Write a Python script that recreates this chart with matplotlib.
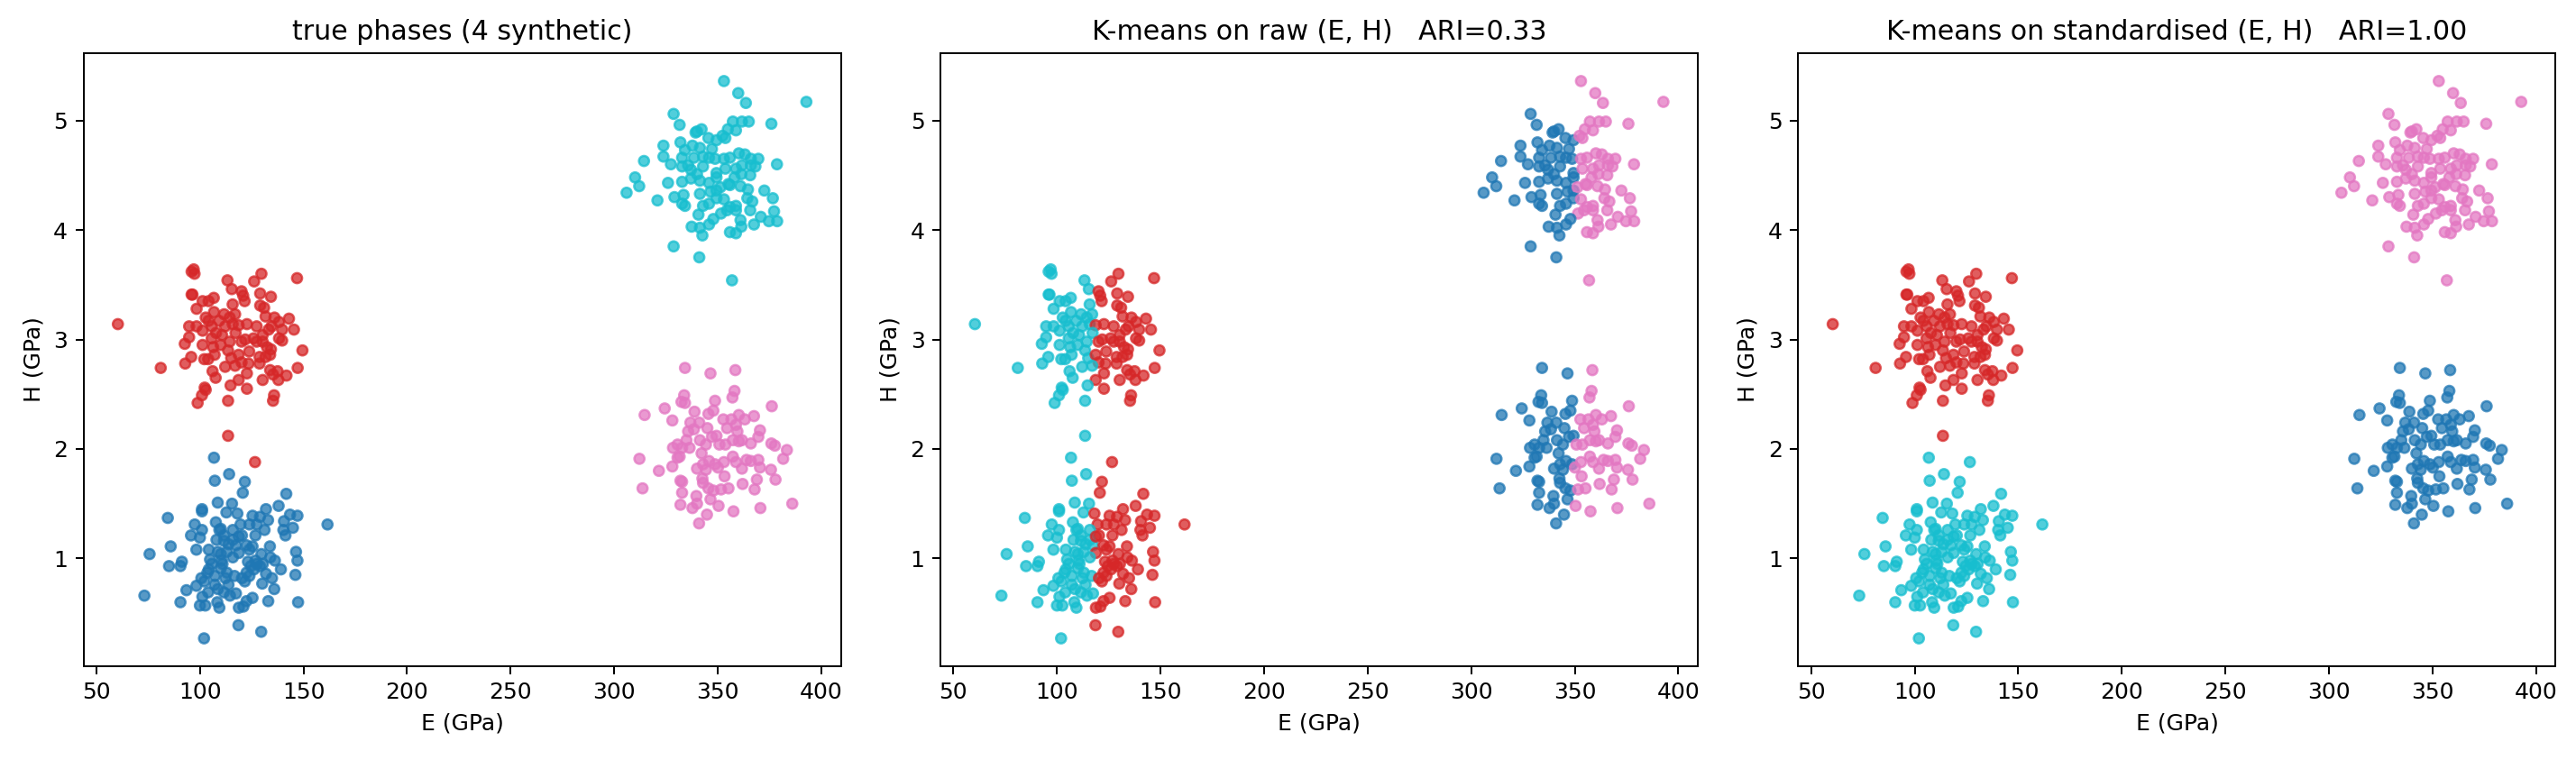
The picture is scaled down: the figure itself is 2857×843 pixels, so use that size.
import numpy as np
from matplotlib import pyplot as plt

# phase 0 : low E, low H
blue_E = [106.8, 114.1, 107.2, 121.7, 120.7, 141.7, 108.6, 115.5, 101.0, 101.0, 112.8, 118.1,
          125.4, 131.9, 138.0, 143.5, 147.1, 84.5, 161.6, 129.0, 132.9, 140.6, 144.9, 140.3,
          141.3, 97.5, 101.0, 107.7, 110.1, 95.7, 119.6, 123.9, 127.5, 131.2, 120.3, 126.8,
          85.9, 75.7, 98.3, 104.3, 108.0, 111.6, 115.9, 117.4, 122.5, 125.4, 133.8, 100.0,
          85.1, 90.6, 91.3, 104.9, 110.1, 110.9, 113.0, 118.8, 115.9, 123.2, 124.6, 127.5,
          129.7, 130.4, 134.0, 136.2, 139.1, 146.4, 147.1, 146.1, 104.3, 107.2, 110.1, 112.3,
          116.7, 120.3, 122.5, 126.1, 131.9, 134.8, 130.1, 135.9, 100.7, 102.2, 98.3, 93.5,
          73.2, 90.6, 100.0, 102.6, 101.2, 104.0, 108.7, 111.6, 114.5, 117.4, 113.8, 108.4,
          109.4, 118.8, 121.0, 122.5, 125.4, 133.0, 147.4, 118.6, 129.6, 102.0, 109.4, 111.6,
          113.8, 108.7, 110.4, 115.9, 118.8, 123.9, 126.8, 129.0, 121.7, 123.9, 107.2, 113.0,
          103.6, 105.8]
blue_H = [1.92, 1.77, 1.71, 1.70, 1.60, 1.59, 1.51, 1.50, 1.45, 1.43, 1.42, 1.41,
          1.39, 1.45, 1.48, 1.40, 1.39, 1.37, 1.31, 1.38, 1.35, 1.34, 1.28, 1.26,
          1.21, 1.31, 1.26, 1.33, 1.27, 1.21, 1.31, 1.31, 1.31, 1.26, 1.21, 1.21,
          1.11, 1.04, 1.08, 1.08, 1.17, 1.16, 1.17, 1.12, 1.12, 1.11, 1.11, 1.19,
          0.93, 0.93, 0.97, 0.99, 1.04, 0.95, 1.06, 1.05, 1.01, 0.97, 0.93, 0.95,
          1.04, 0.95, 1.01, 0.98, 0.90, 1.06, 0.98, 0.85, 0.90, 0.84, 0.91, 0.82,
          0.84, 0.82, 0.87, 0.90, 0.86, 0.82, 0.77, 0.72, 0.82, 0.79, 0.75, 0.71,
          0.66, 0.60, 0.57, 0.57, 0.65, 0.69, 0.72, 0.69, 0.66, 0.68, 0.76, 0.60,
          0.55, 0.55, 0.56, 0.61, 0.64, 0.61, 0.60, 0.39, 0.33, 0.27, 1.26, 1.21,
          1.13, 1.06, 0.98, 1.26, 1.20, 1.08, 0.98, 0.93, 0.79, 0.84, 0.76, 0.87,
          0.87, 0.95]

# phase 1 : low E, mid H
red_E = [60.4, 81.1, 96.0, 97.4, 97.0, 96.0, 96.4, 98.4, 101.3, 104.2, 106.7, 113.3,
         126.2, 129.7, 146.9, 115.4, 120.1, 120.9, 129.1, 134.3, 115.8, 121.6, 129.1, 131.0,
         106.8, 111.7, 117.0, 102.8, 104.2, 94.8, 98.4, 101.3, 105.7, 94.8, 92.7, 101.3,
         107.8, 110.7, 114.4, 115.8, 118.7, 122.7, 127.4, 131.7, 136.0, 138.2, 143.0, 145.4,
         139.7, 134.6, 121.9, 125.9, 130.3, 132.4, 139.7, 138.2, 149.5, 106.4, 107.1, 113.6,
         115.1, 118.7, 120.1, 123.8, 128.8, 133.9, 134.3, 95.8, 92.9, 102.1, 104.0, 112.2,
         117.0, 123.5, 128.8, 106.1, 107.6, 122.7, 118.7, 130.3, 133.9, 137.5, 135.3, 141.8,
         137.9, 147.2, 102.3, 102.8, 101.0, 98.9, 114.8, 122.7, 135.8, 135.3, 113.6, 113.6,
         126.6, 109.3, 112.2, 114.4, 117.2, 120.1, 127.4, 130.3, 131.7, 133.2, 110.0, 105.7]
red_H = [3.14, 2.74, 3.62, 3.60, 3.64, 3.41, 3.41, 3.28, 3.35, 3.35, 3.38, 3.54,
         3.53, 3.60, 3.56, 3.46, 3.44, 3.40, 3.42, 3.39, 3.32, 3.35, 3.31, 3.29,
         3.25, 3.23, 3.23, 3.20, 3.17, 3.12, 3.12, 3.08, 3.12, 3.02, 2.96, 2.95,
         3.06, 3.04, 3.20, 3.14, 3.13, 3.14, 3.12, 3.21, 3.20, 3.16, 3.19, 3.09,
         3.09, 3.12, 3.00, 3.01, 2.98, 2.93, 2.99, 3.01, 2.90, 2.93, 2.86, 2.90,
         2.83, 2.86, 2.79, 2.89, 2.84, 2.86, 2.91, 2.84, 2.78, 2.82, 2.82, 2.75,
         2.76, 2.78, 2.78, 2.71, 2.65, 2.69, 2.63, 2.63, 2.72, 2.71, 2.68, 2.67,
         2.63, 2.74, 2.56, 2.54, 2.49, 2.42, 2.58, 2.55, 2.49, 2.44, 2.44, 2.12,
         1.88, 3.17, 3.12, 2.98, 3.06, 2.98, 2.98, 3.04, 2.84, 3.09, 2.95, 3.01]

# phase 2 : high E, mid H
pink_E = [334.2, 346.5, 358.5, 358.1, 357.1, 333.8, 332.5, 334.2, 314.7, 324.4, 328.1, 348.7,
          347.9, 345.5, 338.8, 376.1, 336.8, 341.1, 338.5, 335.7, 345.0, 352.7, 356.6, 360.2,
          363.1, 367.5, 358.8, 354.5, 359.5, 370.4, 369.6, 366.0, 361.7, 375.9, 377.6, 383.4,
          381.6, 328.4, 330.6, 334.9, 332.8, 336.4, 341.4, 344.3, 347.2, 349.4, 350.8, 353.7,
          357.3, 360.2, 312.2, 321.6, 328.1, 330.6, 331.6, 342.2, 340.0, 342.9, 345.8, 348.7,
          344.3, 350.1, 353.0, 353.3, 357.3, 358.8, 361.7, 363.9, 366.0, 369.6, 370.4, 375.7,
          377.9, 368.9, 332.0, 332.8, 313.7, 332.8, 342.6, 342.9, 345.5, 347.9, 351.6, 355.2,
          362.0, 367.8, 339.7, 346.5, 332.0, 337.8, 340.0, 350.4, 344.8, 341.0, 357.6, 370.6,
          386.0]
pink_H = [2.74, 2.69, 2.72, 2.53, 2.47, 2.49, 2.43, 2.42, 2.31, 2.37, 2.26, 2.44,
          2.35, 2.32, 2.34, 2.39, 2.24, 2.24, 2.18, 2.16, 2.19, 2.27, 2.27, 2.31,
          2.27, 2.30, 2.22, 2.19, 2.16, 2.17, 2.11, 2.05, 2.08, 2.05, 2.03, 1.99,
          1.91, 2.01, 2.04, 2.08, 2.01, 2.01, 2.08, 2.04, 2.11, 2.12, 2.04, 2.04,
          2.08, 2.07, 1.91, 1.80, 1.84, 1.92, 1.93, 1.96, 1.82, 1.86, 1.89, 1.86,
          1.81, 1.83, 1.88, 1.75, 1.93, 1.88, 1.82, 1.90, 1.89, 1.90, 1.83, 1.81,
          1.72, 1.72, 1.71, 1.70, 1.64, 1.60, 1.73, 1.69, 1.64, 1.62, 1.63, 1.64,
          1.68, 1.63, 1.57, 1.54, 1.49, 1.46, 1.50, 1.48, 1.40, 1.32, 1.43, 1.46,
          1.50]

# phase 3 : high E, high H
cyan_E = [353.0, 359.9, 363.6, 392.8, 328.7, 331.6, 375.9, 357.3, 361.7, 365.0, 354.9, 358.8,
          340.0, 342.2, 339.3, 332.0, 345.5, 349.4, 352.3, 353.7, 323.8, 323.8, 334.2, 337.8,
          341.4, 347.2, 314.4, 327.4, 332.8, 335.7, 338.5, 342.9, 345.8, 348.7, 353.0, 355.9,
          360.2, 363.1, 366.0, 369.6, 378.6, 332.8, 337.1, 340.0, 342.9, 349.4, 353.7, 358.8,
          361.7, 366.0, 368.2, 310.1, 312.1, 306.0, 326.0, 332.8, 337.1, 341.4, 345.8, 349.4,
          355.9, 358.1, 361.4, 365.7, 320.9, 329.1, 333.5, 334.2, 332.8, 341.4, 346.5, 349.4,
          351.3, 355.2, 361.0, 364.6, 372.5, 376.6, 366.7, 364.3, 349.4, 353.0, 355.9, 358.8,
          342.9, 345.8, 351.6, 354.5, 358.8, 340.7, 347.9, 345.8, 337.4, 341.4, 342.6, 361.0,
          361.4, 355.9, 358.8, 365.7, 370.8, 367.5, 374.7, 378.7, 377.2, 328.7, 341.1, 356.9]
cyan_H = [5.36, 5.25, 5.16, 5.17, 5.06, 4.96, 4.97, 4.99, 4.99, 4.99, 4.92, 4.91,
          4.90, 4.92, 4.89, 4.80, 4.84, 4.82, 4.86, 4.84, 4.77, 4.67, 4.73, 4.77,
          4.75, 4.74, 4.63, 4.60, 4.66, 4.59, 4.66, 4.67, 4.66, 4.65, 4.65, 4.66,
          4.70, 4.69, 4.65, 4.65, 4.60, 4.58, 4.55, 4.51, 4.58, 4.52, 4.56, 4.56,
          4.59, 4.59, 4.58, 4.48, 4.40, 4.34, 4.43, 4.44, 4.47, 4.45, 4.43, 4.48,
          4.41, 4.48, 4.51, 4.50, 4.27, 4.30, 4.32, 4.22, 4.24, 4.33, 4.35, 4.36,
          4.39, 4.42, 4.40, 4.37, 4.36, 4.29, 4.26, 4.29, 4.29, 4.28, 4.21, 4.22,
          4.22, 4.24, 4.15, 4.18, 4.18, 4.14, 4.10, 4.05, 4.03, 4.02, 3.95, 4.09,
          4.03, 3.98, 3.97, 4.18, 4.12, 4.05, 4.08, 4.08, 4.17, 3.85, 3.75, 3.54]

titles = ["true phases (4 synthetic)",
          "K-means on raw (E, H)   ARI=0.33",
          "K-means on standardised (E, H)   ARI=1.00"]


def kmeans(X, init, n_iter=100):
    """plain Lloyd iterations from given starting centres"""
    C = np.array(init, dtype=float)
    for _ in range(n_iter):
        d = ((X[:, None, :] - C[None, :, :]) ** 2).sum(-1)
        lab = d.argmin(1)
        C = np.array([X[lab == k].mean(0) for k in range(len(C))])
    return lab


groups = [(blue_E, blue_H), (red_E, red_H), (pink_E, pink_H), (cyan_E, cyan_H)]
E = np.concatenate([np.array(g[0]) for g in groups])
H = np.concatenate([np.array(g[1]) for g in groups])
true_lab = np.concatenate([np.full(len(g[0]), k) for k, g in enumerate(groups)])
X = np.column_stack([E, H])

# raw clustering: E dominates -> vertical splits
raw_init = [(335, 3.2), (135, 2.0), (365, 3.2), (100, 2.0)]
raw_lab = kmeans(X, raw_init)

# standardised clustering
Xs = (X - X.mean(0)) / X.std(0)
order = [2, 1, 3, 0]
std_init = [Xs[true_lab == k].mean(0) for k in order]
std_lab = kmeans(Xs, std_init)

fig = plt.figure(figsize=(2857 / 180, 843 / 180), dpi=180)
lefts = [0.0324, 0.3651, 0.6981]
for left, lab, title in zip(lefts, [true_lab, raw_lab, std_lab], titles):
    ax = fig.add_axes([left, 0.1234, 0.294, 0.8066])
    ax.scatter(E, H, c=lab, cmap="tab10", vmin=0, vmax=3, s=20, alpha=0.75)
    ax.set_title(title)
    ax.set_xlabel("E (GPa)")
    ax.set_ylabel("H (GPa)")

fig.savefig("out.png", dpi=180)
